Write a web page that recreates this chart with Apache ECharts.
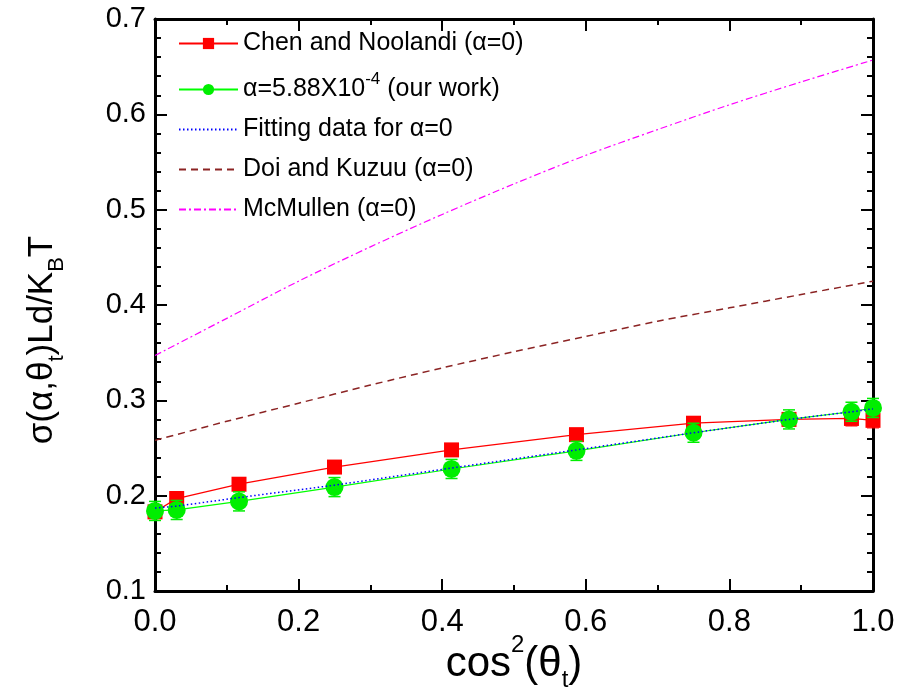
<!DOCTYPE html>
<html>
<head>
<meta charset="utf-8">
<script src="https://cdn.jsdelivr.net/npm/echarts@6/dist/echarts.min.js"></script>
<style>html,body{margin:0;padding:0;background:#fff;}#c{width:901px;height:698px;}</style>
</head>
<body>
<div id="c"></div>
<script>
// ---- data ----
const xPts = [0, 0.0302, 0.117, 0.25, 0.413, 0.587, 0.75, 0.883, 0.970, 1.0];
const chen = [0.183, 0.197, 0.212, 0.230, 0.248, 0.264, 0.276, 0.280, 0.281, 0.279];
const chenErr = [0.006, 0.006, 0.006, 0.006, 0.006, 0.006, 0.006, 0.007, 0.008, 0.008];
const ours = [0.184, 0.185, 0.194, 0.209, 0.228, 0.247, 0.266, 0.280, 0.288, 0.292];
const oursErr = [0.010, 0.010, 0.010, 0.010, 0.010, 0.010, 0.010, 0.010, 0.010, 0.010];
const fit = [0.187, 0.189, 0.198, 0.211, 0.229, 0.248, 0.266, 0.280, 0.288, 0.291];
const xCurve = [0, 0.1, 0.2, 0.3, 0.4, 0.5, 0.6, 0.7, 0.8, 0.9, 1.0];
const doi = [0.258, 0.278, 0.297, 0.316, 0.334, 0.351, 0.367, 0.383, 0.397, 0.411, 0.425];
const mcm = [0.347, 0.386, 0.425, 0.461, 0.495, 0.527, 0.557, 0.584, 0.610, 0.634, 0.657];
const xTicks = [0, 0.2, 0.4, 0.6, 0.8, 1.0];
const yTicks = [0.1, 0.2, 0.3, 0.4, 0.5, 0.6, 0.7];
const names = ['Chen and Noolandi (α=0)', 'α=5.88X10-4 (our work)', 'Fitting data for α=0', 'Doi and Kuzuu (α=0)', 'McMullen (α=0)'];

const FONT = '"Liberation Sans", Arial, sans-serif';
const zip = (xs, ys) => xs.map((x, i) => [x, ys[i]]);
const zip3 = (xs, ys, es) => xs.map((x, i) => [x, ys[i], es[i]]);

function errRender(color) {
  return function (params, api) {
    const x = api.value(0), y = api.value(1), e = api.value(2);
    const hi = api.coord([x, y + e]), lo = api.coord([x, y - e]);
    const w = 6;
    const st = { stroke: color, lineWidth: 1.5 };
    return { type: 'group', children: [
      { type: 'line', shape: { x1: hi[0], y1: hi[1], x2: lo[0], y2: lo[1] }, style: st },
      { type: 'line', shape: { x1: hi[0] - w, y1: hi[1], x2: hi[0] + w, y2: hi[1] }, style: st },
      { type: 'line', shape: { x1: lo[0] - w, y1: lo[1], x2: lo[0] + w, y2: lo[1] }, style: st }
    ]};
  };
}

const axisLine = { show: true, onZero: false, lineStyle: { color: '#000', width: 3 } };
const axisTick = { show: true, inside: true, length: 12, lineStyle: { color: '#000', width: 2 } };
const minorX = { show: true, splitNumber: 2, length: 6, lineStyle: { color: '#000', width: 2 } };
const minorY = { show: true, splitNumber: 5, length: 6, lineStyle: { color: '#000', width: 2 } };

const chart = echarts.init(document.getElementById('c'), null, { renderer: 'canvas' });
chart.setOption({
  animation: false,
  backgroundColor: '#fff',
  grid: { left: 155, right: 28, top: 19, bottom: 107, containLabel: false, outerBoundsMode: 'none' },
  legend: {
    orient: 'vertical', left: 173, top: 26,
    itemWidth: 59, itemHeight: 14, itemGap: 15,
    data: [
      { name: names[0] },
      { name: names[1] },
      { name: names[2], itemStyle: { opacity: 0 } },
      { name: names[3], itemStyle: { opacity: 0 } },
      { name: names[4], itemStyle: { opacity: 0 } }
    ],
    formatter: function (n) {
      if (n === names[1]) return '{t|α=5.88X10}{sup|-4}{t| (our work)}';
      return '{t|' + n + '}';
    },
    textStyle: {
      fontFamily: FONT, fontSize: 25, color: '#000',
      rich: {
        t: { fontFamily: FONT, fontSize: 25, color: '#000', lineHeight: 26 },
        sup: { fontFamily: FONT, fontSize: 17, color: '#000', height: 6, verticalAlign: 'top' }
      }
    }
  },
  xAxis: [
    {
      type: 'value', min: 0, max: 1, interval: 0.2, position: 'bottom',
      axisLine: axisLine, axisTick: axisTick, minorTick: minorX, splitLine: { show: false },
      axisLabel: { fontFamily: FONT, fontSize: 31, color: '#000', margin: 16,
        formatter: v => v.toFixed(1) },
      name: '{m|cos}{sup|2}{m|(θ}{sub|t}{m|)}',
      nameLocation: 'middle', nameGap: 51, nameMoveOverlap: false,
      nameTextStyle: {
        rich: {
          m: { fontFamily: FONT, fontSize: 42, color: '#000', lineHeight: 44 },
          sup: { fontFamily: FONT, fontSize: 24, color: '#000', height: 6, verticalAlign: 'top' },
          sub: { fontFamily: FONT, fontSize: 24, color: '#000', height: 12, verticalAlign: 'bottom' }
        }
      }
    },
    {
      type: 'value', min: 0, max: 1, interval: 0.2, position: 'top',
      axisLine: axisLine, axisTick: axisTick, minorTick: minorX,
      axisLabel: { show: false }, splitLine: { show: false }
    }
  ],
  yAxis: [
    {
      type: 'value', min: 0.1, max: 0.7, interval: 0.1, position: 'left',
      axisLine: axisLine, axisTick: axisTick, minorTick: minorY, splitLine: { show: false },
      axisLabel: { fontFamily: FONT, fontSize: 29, color: '#000', margin: 9,
        formatter: v => v.toFixed(1) },
      name: '{m|σ(α,θ}{sub|t}{m|)Ld/K}{sub|B}{m|T}',
      nameLocation: 'middle', nameGap: 92, nameRotate: 90,
      nameTextStyle: {
        padding: [0, 70, 0, 0],
        rich: {
          m: { fontFamily: FONT, fontSize: 35, color: '#000', lineHeight: 42 },
          sub: { fontFamily: FONT, fontSize: 22, color: '#000', height: 12, verticalAlign: 'bottom' }
        }
      }
    },
    {
      type: 'value', min: 0.1, max: 0.7, interval: 0.1, position: 'right',
      axisLine: axisLine, axisTick: axisTick, minorTick: minorY,
      axisLabel: { show: false }, splitLine: { show: false }
    }
  ],
  series: [
    { name: names[4], type: 'line', data: zip(xCurve, mcm), showSymbol: false, symbol: 'none', clip: false,
      smooth: 0.3, lineStyle: { color: '#ff00ff', width: 1.2, type: [7, 3, 2, 3] }, itemStyle: { color: '#ff00ff' } },
    { name: names[3], type: 'line', data: zip(xCurve, doi), showSymbol: false, symbol: 'none', clip: false,
      smooth: 0.3, lineStyle: { color: '#8b2323', width: 1.5, type: [7, 5] }, itemStyle: { color: '#8b2323' } },
    { name: names[0], type: 'line', data: zip(xPts, chen), symbol: 'rect', symbolSize: 15, clip: false,
      lineStyle: { color: '#ff0000', width: 1.3 }, itemStyle: { color: '#ff0000' }, z: 3 },
    { type: 'custom', data: zip3(xPts, chen, chenErr), renderItem: errRender('rgba(255,0,0,0.6)'), z: 4, clip: false },
    { name: names[1], type: 'line', data: zip(xPts, ours), symbol: 'circle', symbolSize: 18, clip: false,
      lineStyle: { color: '#00ff00', width: 1.2 }, itemStyle: { color: '#00ee00' }, z: 5 },
    { type: 'custom', data: zip3(xPts, ours, oursErr), renderItem: errRender('#00ee00'), z: 6, clip: false },
    { name: names[2], type: 'line', data: zip(xPts, fit), showSymbol: false, symbol: 'none', clip: false,
      lineStyle: { color: '#0000ff', width: 1.5, type: [1.5, 2.5] }, itemStyle: { color: '#0000ff' }, z: 7 }
  ]
});
</script>
</body>
</html>
